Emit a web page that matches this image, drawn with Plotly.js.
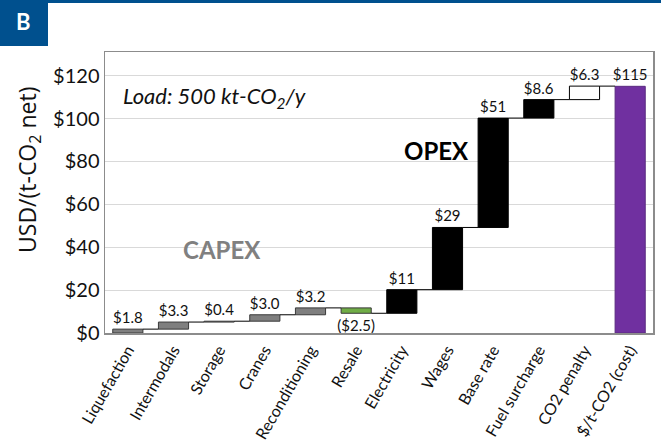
<!DOCTYPE html>
<html>
<head>
<meta charset="utf-8">
<script src="https://cdn.plot.ly/plotly-3.0.1.min.js"></script>
<style>
  html, body { margin: 0; padding: 0; background: #fff; }
  #chart { width: 661px; height: 445px; }
</style>
</head>
<body>
<div id="chart"></div>
<script>
// ---- Data ----
const categories = ['Liquefaction', 'Intermodals', 'Storage', 'Cranes', 'Reconditioning', 'Resale',
                    'Electricity', 'Wages', 'Base rate', 'Fuel surcharge', 'CO2 penalty', '$/t-CO2 (cost)'];
const values = [1.8, 3.3, 0.4, 3.0, 3.2, -2.5, 11, 29, 51, 8.6, 6.3, 115];
const valueLabels = ['$1.8', '$3.3', '$0.4', '$3.0', '$3.2', '($2.5)', '$11', '$29', '$51', '$8.6', '$6.3', '$115'];
const kinds = ['capex', 'capex', 'capex', 'capex', 'capex', 'resale',
               'opex', 'opex', 'opex', 'opex', 'penalty', 'total'];
const yTicks = [0, 20, 40, 60, 80, 100, 120];

// ---- Styles ----
const FONT = 'Lato, "Open Sans", "Liberation Sans", sans-serif';
const fillByKind = { capex: '#7f7f7f', resale: '#70ad47', opex: '#000000', penalty: '#ffffff', total: '#7030a0' };
const lineByKind = { capex: '#3a3a3a', resale: '#3a3a3a', opex: '#000000', penalty: '#000000', total: '#5a2a80' };

// ---- Waterfall geometry from data ----
const idx = categories.map((_, i) => i);
const bases = [];
const cumul = [];
let run = 0;
values.forEach((v, i) => {
  if (kinds[i] === 'total') { bases.push(0); cumul.push(v); }
  else { bases.push(run); run += v; cumul.push(run); }
});
const BW = 0.66;
const cx = [], cy = [];
for (let i = 0; i < values.length - 1; i++) {
  cx.push(i + BW / 2, i + 1 - BW / 2, null);
  cy.push(cumul[i], cumul[i], null);
}

const bars = {
  type: 'bar',
  x: idx,
  y: values,
  base: bases,
  width: BW,
  marker: {
    color: kinds.map(k => fillByKind[k]),
    line: { color: kinds.map(k => lineByKind[k]), width: 1 }
  },
  text: valueLabels,
  textposition: 'outside',
  constraintext: 'none',
  cliponaxis: false,
  textfont: { family: FONT, size: 15, color: '#111' },
  hoverinfo: 'x+y',
  showlegend: false
};

const connectors = {
  type: 'scatter',
  mode: 'lines',
  x: cx,
  y: cy,
  line: { color: '#000', width: 1 },
  hoverinfo: 'skip',
  showlegend: false
};

// pixel -> paper helpers (plot area: x 105..653, y 52..333)
const L = 105, R = 8, T = 52, B = 112, W = 661, H = 445;
const pw = W - L - R, ph = H - T - B;
const px = x => (x - L) / pw;
const py = y => (H - B - y) / ph;

const layout = {
  width: W, height: H,
  margin: { l: L, r: R, t: T, b: B, pad: 0 },
  paper_bgcolor: '#fff',
  plot_bgcolor: '#fff',
  font: { family: FONT, color: '#111' },
  bargap: 0.34,
  xaxis: {
    range: [-0.5, 11.5],
    tickmode: 'array',
    tickvals: idx,
    ticktext: categories,
    tickangle: -60,
    tickfont: { family: FONT, size: 16, color: '#111' },
    showgrid: false,
    zeroline: false,
    showline: true,
    mirror: true,
    linecolor: '#8c8c8c',
    linewidth: 1.5,
    ticks: ''
  },
  yaxis: {
    range: [0, 131],
    tickmode: 'array',
    tickvals: yTicks,
    ticktext: yTicks.map(v => '$' + v),
    tickfont: { family: FONT, size: 20, color: '#111' },
    showgrid: true,
    gridcolor: '#d9d9d9',
    gridwidth: 1,
    zeroline: false,
    showline: true,
    mirror: true,
    linecolor: '#8c8c8c',
    linewidth: 1.5,
    ticks: '',
    ticklen: 6
  },
  shapes: [
    { type: 'rect', xref: 'paper', yref: 'paper', x0: px(0), x1: px(661), y0: py(3), y1: py(0),
      fillcolor: '#00508e', line: { width: 0 } },
    { type: 'rect', xref: 'paper', yref: 'paper', x0: px(0), x1: px(48), y0: py(46), y1: py(0),
      fillcolor: '#00508e', line: { width: 0 } }
  ],
  annotations: [
    { text: '<b>B</b>', xref: 'paper', yref: 'paper', x: px(23), y: py(21), showarrow: false,
      font: { family: FONT, size: 22, color: '#fff' }, xanchor: 'center', yanchor: 'middle' },
    { text: 'USD/(t-CO<sub>2</sub> net)', xref: 'paper', yref: 'paper', x: px(28), y: py(170),
      textangle: -90, showarrow: false, xanchor: 'center', yanchor: 'middle',
      font: { family: '"Open Sans", Lato, sans-serif', size: 23, color: '#111' } },
    { text: '<i>Load: 500 kt-CO<sub>2</sub>/y</i>', xref: 'paper', yref: 'paper', x: px(121), y: py(97),
      showarrow: false, xanchor: 'left', yanchor: 'middle',
      font: { family: FONT, size: 22, color: '#111' } },
    { text: '<b>CAPEX</b>', xref: 'paper', yref: 'paper', x: px(222), y: py(249),
      showarrow: false, xanchor: 'center', yanchor: 'middle',
      font: { family: FONT, size: 24, color: '#808080' } },
    { text: '<b>OPEX</b>', xref: 'paper', yref: 'paper', x: px(436), y: py(150),
      showarrow: false, xanchor: 'center', yanchor: 'middle',
      font: { family: FONT, size: 24, color: '#000' } }
  ]
};

Plotly.newPlot('chart', [connectors, bars], layout, { displayModeBar: false, staticPlot: true });
</script>
</body>
</html>
